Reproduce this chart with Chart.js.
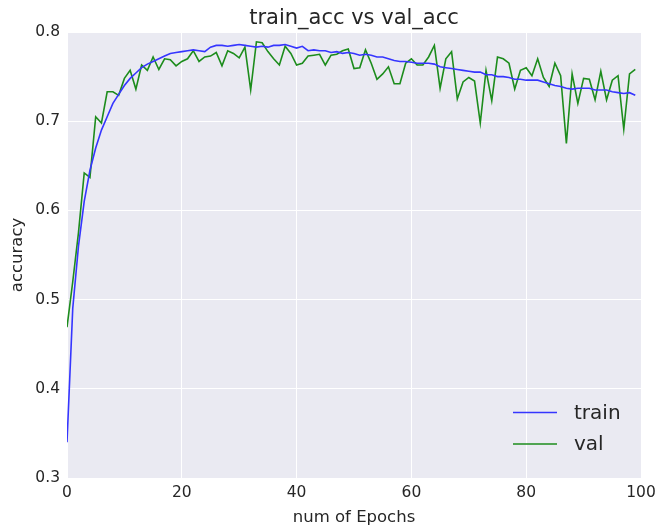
<!DOCTYPE html>
<html>
<head>
<meta charset="utf-8">
<script src="https://cdn.jsdelivr.net/npm/chart.js@4"></script>
<style>
    html, body { margin: 0; padding: 0; background: #fff; }
    #wrap { width: 659px; height: 531px; }
</style>
</head>
<body>
<div id="wrap"><canvas id="myChart" width="659" height="531"></canvas></div>
<script>
// dados
const epochs = Array.from({ length: 100 }, (_, i) => i);

const trainAcc = [
    0.340, 0.490, 0.560, 0.610, 0.645, 0.670, 0.690, 0.705, 0.720, 0.730,
    0.740, 0.748, 0.754, 0.760, 0.764, 0.767, 0.770, 0.773, 0.776, 0.777,
    0.778, 0.779, 0.780, 0.779, 0.778, 0.783, 0.785, 0.785, 0.784, 0.785,
    0.786, 0.785, 0.784, 0.783, 0.784, 0.783, 0.785, 0.785, 0.786, 0.784,
    0.782, 0.784, 0.779, 0.780, 0.779, 0.779, 0.777, 0.778, 0.776, 0.777,
    0.776, 0.774, 0.775, 0.774, 0.772, 0.772, 0.770, 0.768, 0.767, 0.767,
    0.766, 0.765, 0.765, 0.765, 0.764, 0.761, 0.760, 0.759, 0.758, 0.757,
    0.756, 0.755, 0.755, 0.752, 0.752, 0.750, 0.750, 0.749, 0.747, 0.747,
    0.746, 0.746, 0.746, 0.744, 0.742, 0.740, 0.739, 0.737, 0.736, 0.737,
    0.737, 0.737, 0.735, 0.735, 0.735, 0.733, 0.732, 0.731, 0.732, 0.729
];

const valAcc = [
    0.469, 0.520, 0.575, 0.642, 0.637, 0.705, 0.698, 0.733, 0.733, 0.729,
    0.748, 0.757, 0.736, 0.763, 0.757, 0.772, 0.758, 0.770, 0.769, 0.762,
    0.767, 0.770, 0.779, 0.767, 0.772, 0.773, 0.777, 0.762, 0.779, 0.776,
    0.771, 0.783, 0.735, 0.789, 0.788, 0.778, 0.770, 0.763, 0.784, 0.776,
    0.763, 0.765, 0.773, 0.774, 0.775, 0.763, 0.774, 0.775, 0.779, 0.781,
    0.759, 0.760, 0.780, 0.765, 0.747, 0.753, 0.761, 0.742, 0.742, 0.765,
    0.770, 0.763, 0.763, 0.772, 0.785, 0.737, 0.770, 0.778, 0.725, 0.744,
    0.749, 0.745, 0.698, 0.757, 0.723, 0.772, 0.770, 0.765, 0.736, 0.757,
    0.760, 0.751, 0.770, 0.749, 0.739, 0.765, 0.751, 0.675, 0.753, 0.720,
    0.748, 0.747, 0.724, 0.756, 0.724, 0.746, 0.751, 0.691, 0.753, 0.758
];

const xTicks = [0, 20, 40, 60, 80, 100];
const yTicks = [0.3, 0.4, 0.5, 0.6, 0.7, 0.8];

const seriesNames = ['train', 'val'];
const seriesColors = ['#3535ff', '#1c8c1c'];

const FONT = "'DejaVu Sans', sans-serif";
const TEXT_COLOR = '#262626';

// fundo cinza-azulado da área do gráfico (estilo seaborn)
const plotBackground = {
    id: 'plotBackground',
    beforeDraw(chart) {
        const { ctx, chartArea } = chart;
        ctx.save();
        ctx.fillStyle = '#eaeaf2';
        ctx.fillRect(chartArea.left, chartArea.top, chartArea.right - chartArea.left, chartArea.bottom - chartArea.top);
        ctx.restore();
    }
};

// título e legenda desenhados à mão
const titleAndLegend = {
    id: 'titleAndLegend',
    afterDraw(chart) {
        const { ctx, chartArea } = chart;
        ctx.save();
        ctx.fillStyle = TEXT_COLOR;
        ctx.font = '21px ' + FONT;
        ctx.textAlign = 'center';
        ctx.textBaseline = 'middle';
        ctx.fillText('train_acc vs val_acc', (chartArea.left + chartArea.right) / 2, 19);

        ctx.font = '20px ' + FONT;
        ctx.textAlign = 'left';
        seriesNames.forEach((name, i) => {
            const y = 412.5 + i * 31.5;
            ctx.strokeStyle = seriesColors[i];
            ctx.lineWidth = 1.6;
            ctx.beginPath();
            ctx.moveTo(513, y);
            ctx.lineTo(557, y);
            ctx.stroke();
            ctx.fillStyle = TEXT_COLOR;
            ctx.fillText(name, 574, y + 1);
        });
        ctx.restore();
    }
};

const ctx = document.getElementById('myChart').getContext('2d');

const graph = new Chart(ctx, {
    type: 'line',
    data: {
        datasets: [
            {
                label: seriesNames[0],
                data: epochs.map((e, i) => ({ x: e, y: trainAcc[i] })),
                borderColor: seriesColors[0],
                borderWidth: 1.6,
                pointRadius: 0,
                tension: 0,
                fill: false
            },
            {
                label: seriesNames[1],
                data: epochs.map((e, i) => ({ x: e, y: valAcc[i] })),
                borderColor: seriesColors[1],
                borderWidth: 1.6,
                pointRadius: 0,
                tension: 0,
                fill: false
            }
        ]
    },
    options: {
        responsive: false,
        devicePixelRatio: 1,
        animation: false,
        layout: {
            padding: { top: 32, right: 18, left: 0, bottom: 0 }
        },
        plugins: {
            legend: { display: false },
            title: { display: false },
            tooltip: { enabled: false }
        },
        scales: {
            x: {
                type: 'linear',
                min: 0,
                max: 100,
                afterBuildTicks: (scale) => { scale.ticks = xTicks.map(v => ({ value: v })); },
                afterFit: (scale) => {
                    scale.height = 53;
                    scale.paddingLeft = 0;
                    scale.paddingRight = 0;
                },
                grid: { color: '#ffffff', lineWidth: 1, drawTicks: false },
                border: { display: false },
                ticks: {
                    padding: 6,
                    color: TEXT_COLOR,
                    font: { family: FONT, size: 15.5 },
                    maxRotation: 0
                },
                title: {
                    display: true,
                    text: 'num of Epochs',
                    color: TEXT_COLOR,
                    font: { family: FONT, size: 16.5 },
                    padding: { top: 0, bottom: 3 }
                }
            },
            y: {
                min: 0.3,
                max: 0.8,
                afterBuildTicks: (scale) => { scale.ticks = yTicks.map(v => ({ value: v })); },
                afterFit: (scale) => {
                    scale.width = 67;
                    scale.paddingTop = 0;
                    scale.paddingBottom = 0;
                },
                grid: { color: '#ffffff', lineWidth: 1, drawTicks: false },
                border: { display: false },
                ticks: {
                    padding: 7,
                    color: TEXT_COLOR,
                    font: { family: FONT, size: 15.5 },
                    callback: (v) => v.toFixed(1)
                },
                title: {
                    display: true,
                    text: 'accuracy',
                    color: TEXT_COLOR,
                    font: { family: FONT, size: 16.5 },
                    padding: { top: 8, bottom: 0 }
                }
            }
        }
    },
    plugins: [plotBackground, titleAndLegend]
});
</script>
</body>
</html>
